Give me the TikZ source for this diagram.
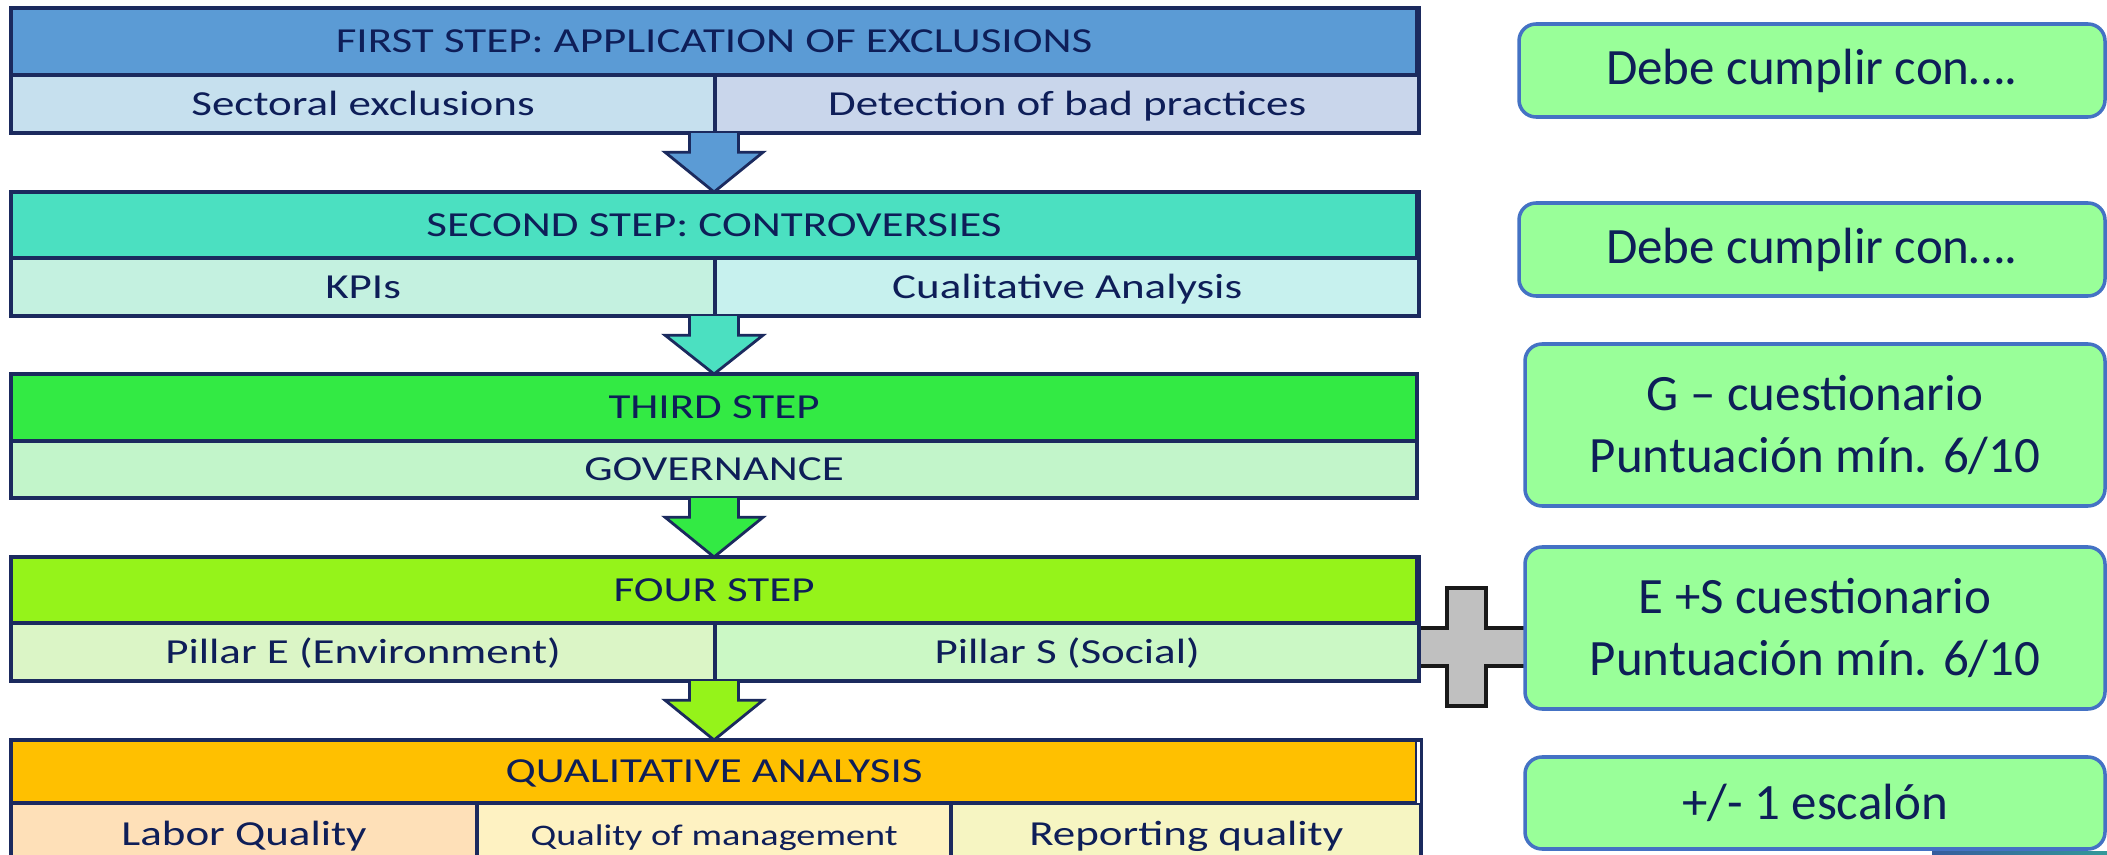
\documentclass[tikz,border=0pt]{standalone}
\usepackage{fontspec}
\setmainfont{Carlito}
\newfontfamily\widefont[FakeStretch=1.28]{Carlito}
\usetikzlibrary{calc}
\definecolor{navy}{HTML}{1B2A5E}
\definecolor{txt}{HTML}{0E1E58}
\definecolor{bah}{HTML}{5B9BD5}
\definecolor{bal}{HTML}{C6E0EE}
\definecolor{bar}{HTML}{C9D6EB}
\definecolor{bbh}{HTML}{4BE0C1}
\definecolor{bbl}{HTML}{C4F1E0}
\definecolor{bbr}{HTML}{C7F1EE}
\definecolor{bch}{HTML}{33EA44}
\definecolor{bcl}{HTML}{C2F5CA}
\definecolor{bdh}{HTML}{95F31A}
\definecolor{bdl}{HTML}{DBF5C6}
\definecolor{bdr}{HTML}{CBF8C5}
\definecolor{beh}{HTML}{FFC000}
\definecolor{bel}{HTML}{FEE0B8}
\definecolor{bem}{HTML}{FEF2C2}
\definecolor{ber}{HTML}{F6F5C2}
\definecolor{rgreen}{HTML}{99FF99}
\definecolor{rblue}{HTML}{4472C4}
\definecolor{plusgray}{HTML}{C0C0C0}
\tikzset{
  hdr/.style={draw=navy, line width=0.6pt, anchor=north west, inner sep=0pt,
    minimum width=14.04cm, text=txt, text height=0.63em, text depth=0pt,
    font=\widefont\fontsize{10}{12}\selectfont},
  cell/.style={draw=navy, line width=0.6pt, anchor=north west, inner sep=0pt,
    text=txt, text height=0.63em, text depth=0pt,
    font=\widefont\fontsize{10}{12}\selectfont},
  frame/.style={draw=navy, line width=1pt},
  barrow/.style={draw=navy, line width=0.8pt, line join=miter},
  rbox/.style={draw=rblue, fill=rgreen, rounded corners=0.17cm, line width=1pt,
    text=txt, align=center, inner sep=0pt,
    font=\fontsize{14.5}{17.6}\selectfont},
  plusshape/.style={draw=black!90, fill=plusgray, line width=1pt, line join=miter}
}
\newcommand\blockarrow[3]{%
  \fill[#3] ($(#1)+(-0.245,0)$) -- ++(0,-0.19) -- ++(-0.245,0) -- (#2)
     -- ($(#1)+(0.49,-0.19)$) -- ++(-0.245,0) -- ++(0,0.19) -- cycle;
  \draw[barrow] ($(#1)+(-0.245,0)$) -- ++(0,-0.19) -- ++(-0.245,0) -- (#2)
     -- ($(#1)+(0.49,-0.19)$) -- ++(-0.245,0) -- ++(0,0.19);}
\begin{document}
\begin{tikzpicture}
\clip (0,0) rectangle (21.07,-8.55);
\fill[white] (0,0) rectangle (21.07,-8.55);

% plus sign (behind blocks and boxes)
\draw[plusshape] (14.14,-6.28) -- (14.47,-6.28) -- (14.47,-5.88) -- (14.86,-5.88)
  -- (14.86,-6.28) -- (15.27,-6.28) -- (15.27,-6.66) -- (14.86,-6.66)
  -- (14.86,-7.06) -- (14.47,-7.06) -- (14.47,-6.66) -- (14.14,-6.66) -- cycle;

% block 1
\node[hdr, fill=bah, minimum height=0.65cm] (h1) at (0.11,-0.08) {FIRST STEP: APPLICATION OF EXCLUSIONS};
\node[cell, fill=bal, minimum width=7.02cm, minimum height=0.56cm] (l1) at (h1.south west) {Sectoral exclusions};
\node[cell, fill=bar, minimum width=7.02cm, minimum height=0.56cm] (r1) at (l1.north east) {Detection of bad practices};
\draw[frame] (h1.north west) rectangle (r1.south east);

% block 2
\node[hdr, fill=bbh, minimum height=0.64cm] (h2) at (0.11,-1.92) {SECOND STEP: CONTROVERSIES};
\node[cell, fill=bbl, minimum width=7.02cm, minimum height=0.56cm] (l2) at (h2.south west) {KPIs};
\node[cell, fill=bbr, minimum width=7.02cm, minimum height=0.56cm] (r2) at (l2.north east) {Cualitative Analysis};
\draw[frame] (h2.north west) rectangle (r2.south east);

% block 3
\node[hdr, fill=bch, minimum height=0.65cm] (h3) at (0.11,-3.74) {THIRD STEP};
\node[cell, fill=bcl, minimum width=14.04cm, minimum height=0.55cm] (g3) at (h3.south west) {GOVERNANCE};
\draw[frame] (h3.north west) rectangle (g3.south east);

% block 4
\node[hdr, fill=bdh, minimum height=0.64cm] (h4) at (0.11,-5.57) {FOUR STEP};
\node[cell, fill=bdl, minimum width=7.02cm, minimum height=0.56cm] (l4) at (h4.south west) {Pillar E (Environment)};
\node[cell, fill=bdr, minimum width=7.02cm, minimum height=0.56cm] (r4) at (l4.north east) {Pillar S (Social)};
\draw[frame] (h4.north west) rectangle (r4.south east);

% block 5
\node[hdr, fill=beh, minimum height=0.61cm] (h5) at (0.11,-7.40) {QUALITATIVE ANALYSIS};
\node[cell, fill=bel, minimum width=4.64cm, minimum height=0.60cm] (l5) at (h5.south west) {Labor Quality};
\node[cell, fill=bem, minimum width=4.72cm, minimum height=0.60cm, font=\widefont\fontsize{8.5}{10}\selectfont] (m5) at (l5.north east) {Quality of management};
\node[cell, fill=ber, minimum width=4.68cm, minimum height=0.60cm] (r5) at (m5.north east) {Reporting quality};
\draw[frame] (h5.north west) rectangle (r5.south east);

% block arrows
\coordinate (a1) at (h1.south |- l1.south);
\coordinate (a2) at (h2.south |- l2.south);
\coordinate (a3) at (h3.south |- g3.south);
\coordinate (a4) at (h4.south |- l4.south);
\blockarrow{a1}{h2.north}{bah}
\blockarrow{a2}{h3.north}{bbh}
\blockarrow{a3}{h4.north}{bch}
\blockarrow{a4}{h5.north}{bdh}

% right boxes
\node[rbox, minimum width=5.86cm, minimum height=0.93cm] (q1) at (18.12,-0.705) {Debe cumplir con….};
\node[rbox, minimum width=5.86cm, minimum height=0.93cm] (q2) at (18.12,-2.495) {Debe cumplir con….};
\node[rbox, minimum width=5.80cm, minimum height=1.62cm] (q3) at (18.15,-4.25) {G – cuestionario\\Puntuación mín. 6/10};
\node[rbox, minimum width=5.80cm, minimum height=1.62cm] (q4) at (18.15,-6.28) {E +S cuestionario\\Puntuación mín. 6/10};
\node[rbox, minimum width=5.80cm, minimum height=0.92cm] (q5) at (18.15,-8.03) {+/- 1 escalón};

% fragment of a bar at the lower right edge
\shade[left color=rblue!80!black, right color=teal!80] (19.32,-8.51) rectangle (21.07,-8.60);
\end{tikzpicture}
\end{document}
